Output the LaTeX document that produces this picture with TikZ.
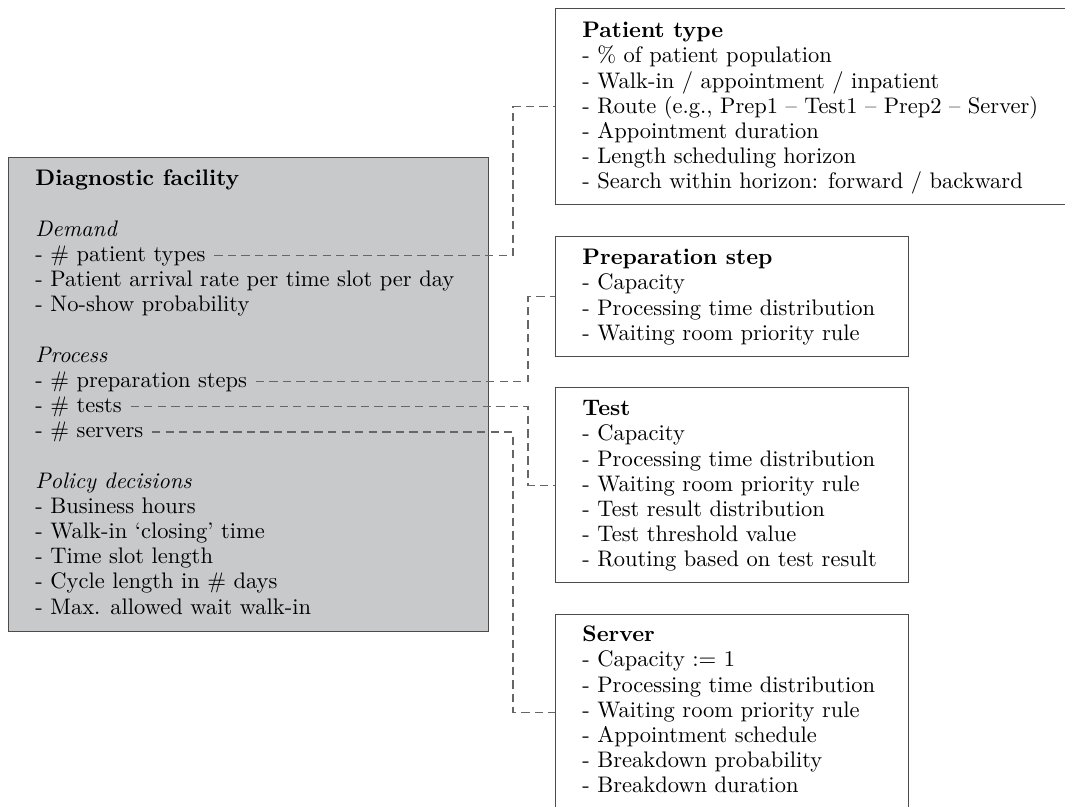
\documentclass[tikz,border=0pt]{standalone}
\usepackage{tikz}
\usetikzlibrary{positioning}
\newlength\pxu
\setlength\pxu{0.48pt}
\definecolor{facgray}{RGB}{200,201,203}
\tikzset{
  box/.style={draw=black!70, line width=0.6pt, anchor=north west, inner sep=0pt},
  item/.style={anchor=west, inner sep=0pt, text height=7.5pt, text depth=2pt,
    font=\fontsize{10.8pt}{13pt}\selectfont},
  link/.style={draw=black!60, line width=0.5pt, dash pattern=on 4pt off 2.5pt, shorten <=4pt},
}

\begin{document}
\begin{tikzpicture}[x=\pxu, y=-\pxu]
  \useasboundingbox (0,0) rectangle (1065,807);

  % frames
  \node[box, fill=facgray, minimum width=480\pxu, minimum height=474\pxu] (facility) at (8,157) {};
  \node[box, minimum width=520\pxu, minimum height=196\pxu] (ptype) at (555,8) {};
  \node[box, minimum width=353\pxu, minimum height=120\pxu] (prep) at (555,236) {};
  \node[box, minimum width=353\pxu, minimum height=195\pxu] (test) at (555,387) {};
  \node[box, minimum width=353\pxu, minimum height=196\pxu] (server) at (555,614) {};

  % diagnostic facility
  \foreach \txt [count=\i from 0] in {{\bfseries Diagnostic facility}, {},
      {\itshape Demand}, {- \# patient types}, {- Patient arrival rate per time slot per day},
      {- No-show probability}, {},
      {\itshape Process}, {- \# preparation steps}, {- \# tests}, {- \# servers}, {},
      {\itshape Policy decisions}, {- Business hours}, {- Walk-in `closing' time},
      {- Time slot length}, {- Cycle length in \# days}, {- Max. allowed wait walk-in}}
    \node[item] (fac-\i) at (35,180+25.2*\i) {\txt};

  % patient type
  \foreach \txt [count=\i from 0] in {{\bfseries Patient type}, {- \% of patient population},
      {- Walk-in / appointment / inpatient}, {- Route (e.g., Prep1 -- Test1 -- Prep2 -- Server)},
      {- Appointment duration}, {- Length scheduling horizon},
      {- Search within horizon: forward / backward}}
    \node[item] (pt-\i) at (582,32+25.2*\i) {\txt};

  % preparation step
  \foreach \txt [count=\i from 0] in {{\bfseries Preparation step}, {- Capacity},
      {- Processing time distribution}, {- Waiting room priority rule}}
    \node[item] (pr-\i) at (582,259+25.2*\i) {\txt};

  % test
  \foreach \txt [count=\i from 0] in {{\bfseries Test}, {- Capacity},
      {- Processing time distribution}, {- Waiting room priority rule},
      {- Test result distribution}, {- Test threshold value},
      {- Routing based on test result}}
    \node[item] (ts-\i) at (582,410+25.2*\i) {\txt};

  % server
  \foreach \txt [count=\i from 0] in {{\bfseries Server}, {- Capacity $:=$ 1},
      {- Processing time distribution}, {- Waiting room priority rule},
      {- Appointment schedule}, {- Breakdown probability},
      {- Breakdown duration}}
    \node[item] (sv-\i) at (582,636+25.2*\i) {\txt};

  % dashed links
  \coordinate (busA) at (513,0);
  \coordinate (busB) at (528,0);
  \draw[link] (fac-3.east) -| (busA |- ptype.west) -- (ptype.west);
  \draw[link] (fac-8.east) -| (busB |- prep.west) -- (prep.west);
  \draw[link] (fac-9.east) -| (busB |- test.west) -- (test.west);
  \draw[link] (fac-10.east) -| (busA |- server.west) -- (server.west);
\end{tikzpicture}
\end{document}
